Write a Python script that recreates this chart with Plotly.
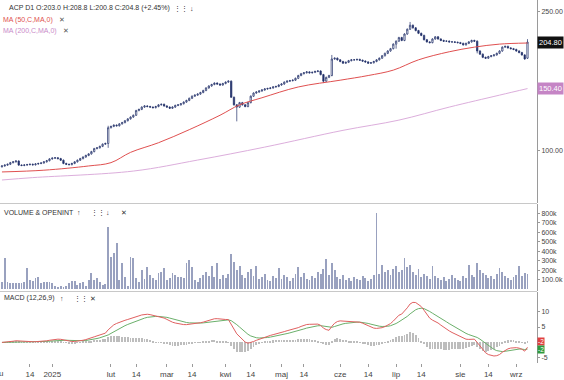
import pandas as pd
import numpy as np
import plotly.graph_objects as go

# ---------------- data ----------------
holidays = ["2024-12-24", "2024-12-25", "2024-12-26", "2024-12-31", "2025-01-01",
            "2025-01-06", "2025-04-18", "2025-04-21", "2025-05-01", "2025-06-19", "2025-08-15"]
dates = [d for d in pd.bdate_range("2024-12-02", "2025-09-05") if d.strftime("%Y-%m-%d") not in holidays]

close = [
    90.0, 90.5, 91.0, 92.0, 92.5, 93.0, 90.5, 90.3, 90.6, 90.8,
    91.0, 90.7, 91.2, 91.5, 91.8, 92.5, 93.2, 94.3, 94.8, 95.0,
    94.5, 93.5, 91.5, 91.0, 90.8, 91.5, 92.5, 93.5, 94.5, 95.5,
    96.5, 97.5, 99.0, 101.0, 101.5, 102.5, 104.0, 104.5, 116.0, 117.0,
    118.0, 117.5, 119.0, 120.0, 121.5, 123.0, 124.5, 126.0, 130.0, 131.0,
    133.0, 134.0, 133.5, 133.0, 132.5, 133.5, 135.0, 135.5, 134.0, 133.0,
    132.0, 133.0, 134.5, 135.0, 136.0, 137.5, 139.0, 141.0, 143.0, 144.0,
    145.0, 146.5, 148.5, 151.0, 153.0, 154.5, 156.0, 155.0, 154.0, 155.5,
    157.0, 158.0, 142.0, 135.0, 133.0, 137.0, 135.0, 133.5, 137.0, 143.0,
    146.0, 147.0, 148.0, 149.0, 150.0, 150.5, 151.0, 152.0, 152.5, 154.0,
    155.0, 157.0, 158.0, 158.5, 159.0, 161.0, 164.0, 166.0, 167.0, 168.0,
    167.0, 167.5, 168.5, 169.0, 165.0, 158.0, 162.0, 164.0, 183.0, 184.0,
    182.0, 180.0, 178.0, 179.0, 181.0, 182.0, 182.0, 182.5, 181.5, 180.5,
    179.5, 178.0, 178.5, 180.0, 182.0, 184.0, 187.0, 190.0, 193.0, 196.0,
    202.0, 206.0, 211.0, 207.0, 216.0, 223.0, 229.0, 225.0, 221.0, 217.0,
    214.0, 208.0, 205.0, 204.0, 209.0, 212.0, 209.0, 207.0, 206.0, 206.0,
    205.0, 205.0, 204.5, 204.0, 203.0, 201.0, 203.0, 205.0, 207.0, 206.0,
    193.0, 189.0, 185.0, 184.0, 186.0, 187.0, 188.0, 190.0, 193.0, 198.0,
    199.0, 197.0, 196.0, 195.0, 193.0, 191.0, 188.0, 183.0, 204.8,
]
first_open = 89.5
high_override = {38: 117.5, 118: 188.0, 146: 234.0, 188: 208.8}
low_override = {38: 101.5, 84: 121.0, 115: 156.0, 141: 196.0, 170: 190.0, 188: 183.0}

volume_k = [
    80, 330, 82, 72, 65, 72, 72, 65, 82, 222,
    100, 93, 118, 135, 65, 82, 82, 82, 72, 40,
    30, 37, 23, 37, 65, 93, 93, 47, 65, 82,
    37, 100, 170, 100, 118, 82, 47, 60, 653, 345,
    380, 490, 100, 280, 135, 40, 340, 330, 118, 82,
    205, 110, 240, 150, 118, 100, 170, 187, 222, 100,
    118, 170, 152, 135, 135, 118, 275, 310, 240, 100,
    82, 120, 150, 180, 140, 250, 130, 280, 110, 150,
    120, 160, 370, 290, 200, 250, 150, 120, 180, 210,
    140, 250, 110, 130, 160, 100, 90, 140, 120, 230,
    110, 150, 130, 90, 120, 160, 240, 130, 170, 110,
    100, 140, 120, 180, 160, 220, 320, 150, 280, 200,
    130, 110, 150, 100, 120, 90, 130, 110, 100, 140,
    120, 90, 110, 150, 800, 160, 260, 180, 200, 150,
    220, 250, 180, 200, 330, 240, 260, 180, 150, 210,
    130, 160, 140, 110, 250, 140, 120, 100, 130, 90,
    110, 150, 120, 100, 90, 140, 120, 260, 150, 130,
    280, 200, 170, 150, 120, 140, 110, 160, 230, 180,
    140, 120, 100, 130, 150, 250, 140, 170, 160,
]

ma50_idx = [0, 15, 31, 39, 46, 56, 67, 78, 85, 93, 106, 121, 131, 140, 149, 160, 169, 178, 188]
ma50_val = [86.5, 87.5, 90.0, 92.0, 98.5, 105.0, 114.5, 126.0, 135.0, 141.5, 152.0, 159.0, 164.0,
            170.0, 182.0, 192.0, 198.0, 202.0, 203.5]
ma200_idx = [0, 11, 47, 70, 94, 122, 142, 160, 178, 188]
ma200_val = [82.0, 83.3, 87.0, 93.6, 102.0, 114.0, 122.0, 133.0, 144.0, 150.4]

tick_dates = ["2024-12-16", "2025-01-02", "2025-02-03", "2025-02-14", "2025-03-03",
              "2025-03-14", "2025-04-01", "2025-04-14", "2025-05-02", "2025-05-14", "2025-06-02",
              "2025-06-16", "2025-07-01", "2025-07-14", "2025-08-01", "2025-08-18", "2025-09-01"]
tick_text = ["14", "2025", "lut", "14", "mar", "14", "kwi", "14", "maj", "14", "cze",
             "14", "lip", "14", "sie", "14", "wrz"]
first_month_label = "gru"

# ---------------- derived ----------------
n = len(close)
idx = list(range(n))
date_str = [d.strftime("%Y-%m-%d") for d in dates]
tick_vals = [float(date_str.index(t)) for t in tick_dates]

opn = [first_open] + close[:-1]
opn[188] = 184.0
high = [high_override.get(i, max(o, c) * 1.005) for i, (o, c) in enumerate(zip(opn, close))]
low = [low_override.get(i, min(o, c) * 0.995) for i, (o, c) in enumerate(zip(opn, close))]

s = pd.Series(close)
ema12 = s.ewm(span=12, adjust=False).mean()
ema26 = s.ewm(span=26, adjust=False).mean()
macd = ema12 - ema26
signal = macd.ewm(span=9, adjust=False).mean()
hist = macd - signal

# ---------------- figure ----------------
NAVY = "#22306a"
RED = "#e05050"
PINK = "#dcaedc"
FONT = "Liberation Sans, Arial, sans-serif"
H = 363.0
W = 537.0

fig = go.Figure()
fig.add_trace(go.Candlestick(
    x=idx, open=opn, high=high, low=low, close=close,
    increasing=dict(line=dict(color=NAVY, width=0.7), fillcolor="white"),
    decreasing=dict(line=dict(color=NAVY, width=0.7), fillcolor=NAVY),
    whiskerwidth=0, xaxis="x", yaxis="y", hoverinfo="skip", showlegend=False))
fig.add_trace(go.Scatter(x=ma200_idx, y=ma200_val, mode="lines",
                         line=dict(color=PINK, width=1, shape="spline"), yaxis="y", hoverinfo="skip"))
fig.add_trace(go.Scatter(x=ma50_idx, y=ma50_val, mode="lines",
                         line=dict(color=RED, width=1, shape="spline"), yaxis="y", hoverinfo="skip"))
fig.add_trace(go.Bar(x=idx, y=volume_k, width=0.32, marker=dict(color="#99a1bf", line_width=0),
                     yaxis="y2", hoverinfo="skip"))
fig.add_trace(go.Bar(x=idx, y=hist, width=0.32, marker=dict(color="#bdbdbd", line_width=0),
                     yaxis="y3", hoverinfo="skip"))
fig.add_trace(go.Scatter(x=idx, y=signal, mode="lines", line=dict(color="#6bb06b", width=1),
                         yaxis="y3", hoverinfo="skip"))
fig.add_trace(go.Scatter(x=idx, y=macd, mode="lines", line=dict(color="#e06060", width=1),
                         yaxis="y3", hoverinfo="skip"))


def py(p):
    return 1 - p / H


def px(p):
    return p / W


axis_common = dict(side="right", anchor="x", showgrid=False, zeroline=False, showline=True,
                   linecolor="#9a9a9a", linewidth=1, ticks="outside", ticklen=2, tickcolor="#9a9a9a",
                   tickfont=dict(size=7, color="#444", family=FONT), automargin=False)

fig.update_layout(
    width=564, height=380, margin=dict(l=0, r=27, t=0, b=17, autoexpand=False),
    paper_bgcolor="white", plot_bgcolor="white", showlegend=False, bargap=0,
    font=dict(family=FONT, size=8, color="#333"),
    xaxis=dict(range=[-0.7, 191.4], anchor="y3", tickvals=tick_vals, ticktext=tick_text,
               showgrid=False, zeroline=False, ticks="outside", ticklen=3, tickcolor="#9a9a9a",
               tickfont=dict(size=8, color="#444", family=FONT), rangeslider=dict(visible=False),
               showline=False, automargin=False),
    yaxis=dict(domain=[py(203), 1], type="log", range=[1.8475, 2.4325],
               tickvals=[100, 250], ticktext=["100.00", "250.00"], **axis_common),
    yaxis2=dict(domain=[py(291), py(204)], range=[-16, 898],
                tickvals=[100, 200, 300, 400, 500, 600, 700, 800],
                ticktext=["100.0k", "200k", "300k", "400k", "500k", "600k", "700k", "800k"],
                **axis_common),
    yaxis3=dict(domain=[0, py(292)], range=[-6.7, 16.4], tickvals=[-5, 5, 10],
                ticktext=["-5", "5", "10"], **axis_common),
)

for yp in (203.5, 291.5):
    fig.add_shape(type="line", xref="paper", yref="paper", x0=0, x1=1, y0=py(yp), y1=py(yp),
                  line=dict(color="#c8c8c8", width=1))


def ann(xp, yp, text, color="#333", size=7.5, anchor="left"):
    fig.add_annotation(x=px(xp), y=py(yp), xref="paper", yref="paper", text=text, showarrow=False,
                       xanchor=anchor, yanchor="middle", font=dict(size=size, color=color, family=FONT))


ann(7, 8, "ACP D1 O:203.0 H:208.8 L:200.8 C:204.8 (+2.45%)", "#333", 7)
ann(172, 8, "⋮⋮", "#333", 7)
ann(188, 8, "↓", "#333", 7)
ann(1, 19.5, "MA (50,C,MA,0)", RED, 7)
ann(57, 19.5, "✕", "#555", 7)
ann(1, 31, "MA (200,C,MA,0)", "#c98ac9", 7)
ann(61, 31, "✕", "#555", 7)
ann(2, 212, "VOLUME & OPENINT", "#333", 7)
ann(75, 212, "↑", "#333", 7)
ann(89, 212, "⋮⋮", "#333", 7)
ann(104, 212, "↓", "#333", 7)
ann(119, 212, "✕", "#333", 7)
ann(2, 298, "MACD (12,26,9)", "#333", 7)
ann(58, 298, "↑", "#333", 7)
ann(72, 298, "⋮⋮", "#333", 7)
ann(88, 298, "✕", "#333", 7)
# first month label, partly cut at the left edge as in the reference
ann(-2, 373.5, first_month_label, "#444", 8, anchor="center")


def box(yval, yref, text, bg, fg="white", size=7.5, pad=1):
    fig.add_annotation(x=1, y=yval, xref="paper", yref=yref, text=text, showarrow=False,
                       xanchor="left", yanchor="middle", bgcolor=bg, borderpad=pad,
                       font=dict(size=size, color=fg, family=FONT))


box(np.log10(close[-1]), "y", f"{close[-1]:.2f}", "#111111")
box(np.log10(ma200_val[-1]), "y", f"{ma200_val[-1]:.2f}", "#c585c5")

# last MACD / signal value tags, stacked just below the zero level
m_last = float(macd.iloc[-1])
s_last = float(signal.iloc[-1])
box(0.4, "y3", f"{m_last:.0f}", "#e04040", size=6.5, pad=0)
box(-2.3, "y3", f"{s_last:.0f}", "#2e9a3e", size=6.5, pad=0)

fig.write_html("out.html")
